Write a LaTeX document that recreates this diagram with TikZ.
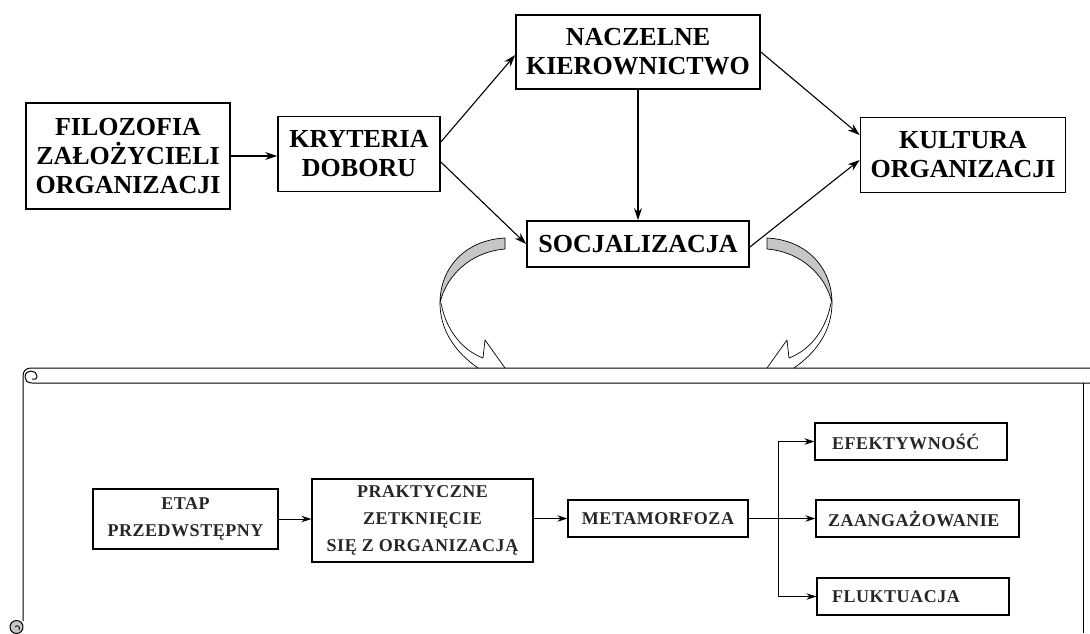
\documentclass[tikz,border=0pt]{standalone}
\usepackage{fontspec}
\setmainfont{Liberation Serif}
\newfontfamily\stagefont[LetterSpace=3]{Liberation Serif}
\usetikzlibrary{arrows.meta}
\begin{document}
\begin{tikzpicture}[x=1pt,y=-1pt,
  bigbox/.style={draw, line width=1.7pt, inner sep=0pt, align=center,
    font=\bfseries\fontsize{26}{29}\selectfont},
  stagebox/.style={draw, line width=1.3pt, inner sep=0pt, align=center,
    minimum height=37pt, text=black!85,
    font=\stagefont\bfseries\fontsize{18}{27}\selectfont},
  bigarrow/.style={line width=1.1pt, -{Stealth[length=12pt,width=8pt]}},
  smallarrow/.style={line width=1pt, -{Stealth[length=10pt,width=6.5pt]}},
  scrollline/.style={line width=1pt, line join=round},
  twistarrow/.style={line width=0.7pt, line join=round},
]
\fill[white] (0,0) rectangle (1090,633);
\useasboundingbox (0,0) rectangle (1090,633);

% upper chain
\node[bigbox, minimum width=204pt, minimum height=106pt] (fil) at (128,156) {FILOZOFIA\\ZAŁOŻYCIELI\\ORGANIZACJI};
\node[bigbox, minimum width=162pt, minimum height=75pt] (kry) at (359,154) {KRYTERIA\\DOBORU};
\node[bigbox, minimum width=244pt, minimum height=74pt] (nac) at (638,52) {NACZELNE\\KIEROWNICTWO};
\node[bigbox, minimum width=205pt, minimum height=75pt] (kul) at (963,155) {KULTURA\\ORGANIZACJI};
\node[bigbox, minimum width=222pt, minimum height=46pt] (soc) at (638,244) {SOCJALIZACJA};

\draw[bigarrow] (fil.east) -- (fil.east -| kry.west);
\draw[bigarrow] ([yshift=12pt]kry.east) -- ([yshift=-3pt]nac.west);
\draw[bigarrow] ([yshift=-8pt]kry.east) -- (soc.west);
\draw[bigarrow] (nac.south) -- (soc.north);
\draw[bigarrow] (nac.east) -- ([yshift=20pt]kul.west);
\draw[bigarrow] ([yshift=-3pt]soc.east) -- ([yshift=-5pt]kul.west);

% twisted arrows from the socialisation box down onto the scroll
\foreach \s in {1,-1} {
  \begin{scope}[shift={(636,0)}, xscale=\s]
    \filldraw[twistarrow, fill=gray!45] (-131,238) .. controls (-171,240) and (-196,268) .. (-196,303)
      .. controls (-190,276) and (-166,252) .. (-131,249) -- cycle;
    \draw[twistarrow] (-196,303) .. controls (-196,330) and (-181,352) .. (-158,368);
    \draw[twistarrow] (-195,303) .. controls (-190,330) and (-174,350) .. (-153,358)
      -- (-151,340) -- (-131,368);
  \end{scope}
}

% scroll frame
\draw[scrollline] (1090,368) -- (31,368) .. controls (26,368) and (23,371) .. (23,376) -- (23,621);
\draw[scrollline] (1090,383) -- (32,383) .. controls (27,383) and (25,380) .. (25,377)
  .. controls (25,373) and (28,371) .. (31,371) .. controls (34,371) and (37,373) .. (37,376)
  .. controls (37,379) and (34,380) .. (32,379);
\draw[scrollline] (1083,383) -- (1083,633);
\filldraw[scrollline, fill=gray!45] (16.5,627) circle[radius=6.5];
\draw[line width=0.8pt] (19,630) .. controls (21,627) and (17,624) .. (15,627);

% stages of socialisation
\node[stagebox, minimum width=185pt, minimum height=60pt] (etap) at (185.5,519) {ETAP\\PRZEDWSTĘPNY};
\node[stagebox, minimum width=221pt, minimum height=83pt] (prak) at (422.5,520.5) {PRAKTYCZNE\\ZETKNIĘCIE\\SIĘ Z ORGANIZACJĄ};
\node[stagebox, minimum width=180pt] (meta) at (658,518.5) {METAMORFOZA};
\node[stagebox, align=left, inner xsep=17pt, text width=158pt] (efek) at (911,441.5) {EFEKTYWNOŚĆ};
\node[stagebox, align=left, inner xsep=12pt, text width=179pt] (zaan) at (917.5,518.5) {ZAANGAŻOWANIE};
\node[stagebox, align=left, inner xsep=15pt, text width=162pt] (fluk) at (913,596.5) {FLUKTUACJA};

\coordinate (fork) at (778,518.5);
\draw[smallarrow] (etap.east) -- (etap.east -| prak.west);
\draw[smallarrow] (prak.east |- meta.west) -- (meta.west);
\draw[smallarrow] (meta.east) -- (zaan.west);
\draw[line width=1pt] (fork |- efek.west) -- (fork |- fluk.west);
\draw[smallarrow] (fork |- efek.west) -- (efek.west);
\draw[smallarrow] (fork |- fluk.west) -- (fluk.west);
\end{tikzpicture}
\end{document}
